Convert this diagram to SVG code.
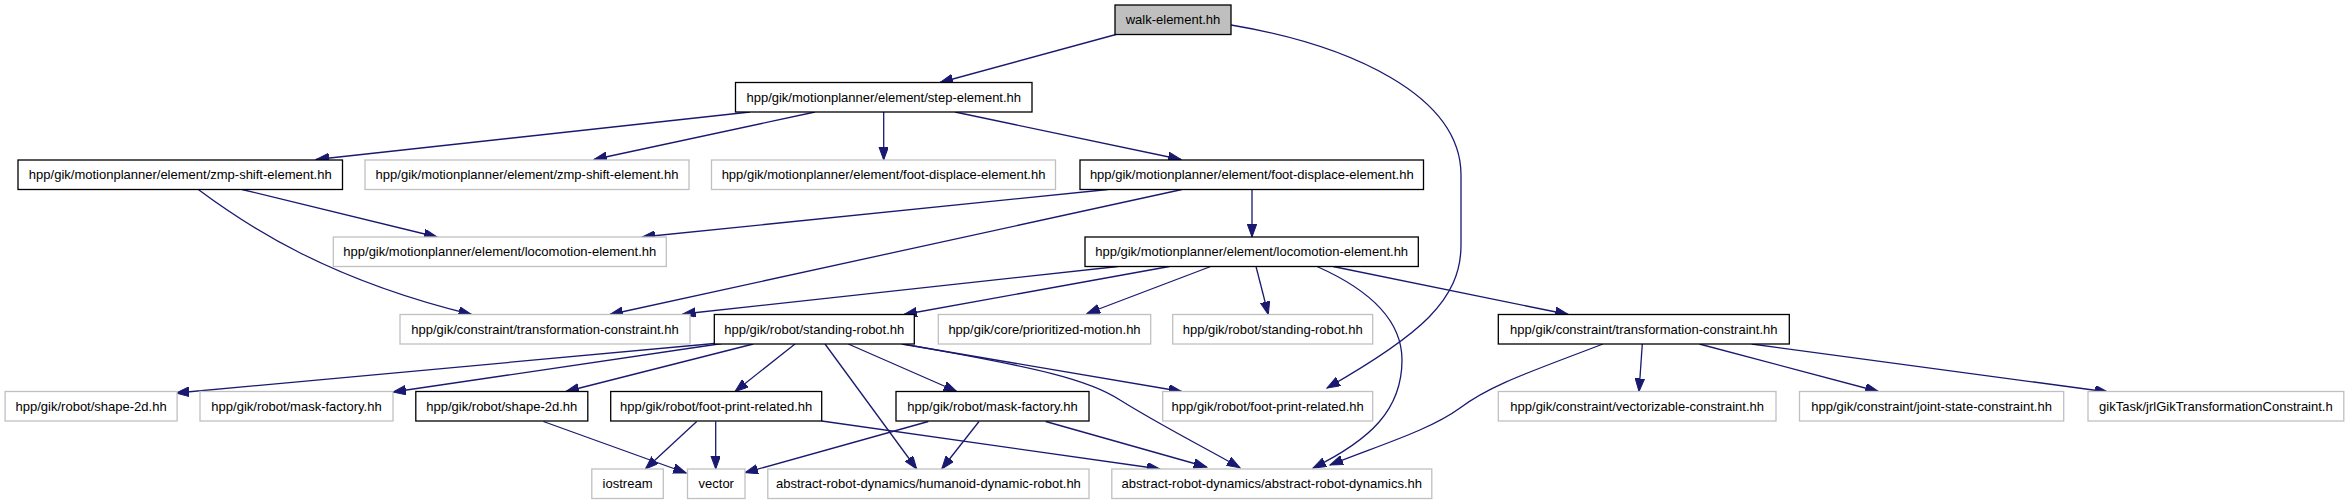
<svg xmlns="http://www.w3.org/2000/svg" width="2349" height="504" viewBox="0 0 2349 504">
<style>
.n rect{fill:#fff;stroke-width:1.3}
.b rect{stroke:#000}
.g rect{stroke:#c0c0c0}
.r rect{fill:#bfbfbf;stroke:#000}
text{font-family:"Liberation Sans",Arial,Helvetica,sans-serif;font-size:13px;fill:#000;text-anchor:middle}
#edges path{fill:none;stroke:#191970;stroke-width:1.3;marker-end:url(#ah)}
</style>
<defs>
<marker id="ah" markerUnits="userSpaceOnUse" markerWidth="14" markerHeight="10" refX="13" refY="4.75" orient="auto">
<path d="M0,0 L13,4.75 L0,9.5 z" fill="#191970" stroke="#191970" stroke-width="1"/>
</marker>
</defs>
<rect width="2349" height="504" fill="#fff"/>
<g id="edges">
<path d="M1116,34.5 L940,82.5"/>
<path d="M1231,25 C1350,45 1461,95 1461,175 L1461,245 C1461,300 1420,335 1327,388"/>
<path d="M750,112 L316,159.5"/>
<path d="M815,112 L594,159.5"/>
<path d="M883.7,112 L883.7,160"/>
<path d="M955,112 L1181,159.5"/>
<path d="M242,189.5 L437,237"/>
<path d="M198.3,189.5 C250,228 330,280 471.5,314.5"/>
<path d="M1108,189.5 L642,237"/>
<path d="M1182,189.5 L610,314.5"/>
<path d="M1252,189.5 L1252,237"/>
<path d="M1118,266.5 L682.7,314"/>
<path d="M1169.4,266.5 L904,314.5"/>
<path d="M1210.7,266.5 L1087,313.5"/>
<path d="M1256,266.5 L1268.3,314.5"/>
<path d="M1317,266.5 C1370,290 1402,320 1402,360 C1402,410 1370,440 1313,468"/>
<path d="M1333,266.5 L1568.3,314.5"/>
<path d="M714.3,343.5 L176,393"/>
<path d="M722,343.5 L393,392"/>
<path d="M753.3,344 L566,391.5"/>
<path d="M795,344 L735,391.5"/>
<path d="M825,344 L916.7,469"/>
<path d="M848.3,344 L956.7,391.5"/>
<path d="M901.7,344 L1181.7,391.5"/>
<path d="M905,344.3 C1040,368 1090,380 1120,400 C1160,425 1200,445 1240,467.7"/>
<path d="M696.7,421.5 L645.4,469"/>
<path d="M715.7,421.5 L715.7,469"/>
<path d="M821.7,421 L1160,469"/>
<path d="M543.4,421.5 L686.2,473"/>
<path d="M928.3,421.5 L745,472.7"/>
<path d="M979,421.5 L941.7,469"/>
<path d="M1045.7,421.5 L1206.7,467"/>
<path d="M1603,344 C1530,372 1490,385 1460,408 C1430,430 1380,445 1330,465"/>
<path d="M1642.3,344 L1639,391.5"/>
<path d="M1699.3,344 L1878.3,391.5"/>
<path d="M1751.7,344 L2108,392"/>
</g>
<g id="n1" class="n r"><rect x="1115" y="5" width="116" height="29.5"/><text x="1173" y="24">walk-element.hh</text></g>
<g id="n2" class="n b"><rect x="735.5" y="82.5" width="296.5" height="29.5"/><text x="883.75" y="101.5">hpp/gik/motionplanner/element/step-element.hh</text></g>
<g id="n3" class="n b"><rect x="18" y="160" width="324.5" height="29.5"/><text x="180.25" y="179">hpp/gik/motionplanner/element/zmp-shift-element.hh</text></g>
<g id="n4" class="n g"><rect x="365" y="160" width="324" height="29.5"/><text x="527" y="179">hpp/gik/motionplanner/element/zmp-shift-element.hh</text></g>
<g id="n5" class="n g"><rect x="711.5" y="160" width="344" height="29.5"/><text x="883.5" y="179">hpp/gik/motionplanner/element/foot-displace-element.hh</text></g>
<g id="n6" class="n b"><rect x="1080" y="160" width="343.5" height="29.5"/><text x="1251.75" y="179">hpp/gik/motionplanner/element/foot-displace-element.hh</text></g>
<g id="n7" class="n g"><rect x="333.3" y="237" width="333" height="29.5"/><text x="499.8" y="256">hpp/gik/motionplanner/element/locomotion-element.hh</text></g>
<g id="n8" class="n b"><rect x="1085" y="237" width="333.3" height="29.5"/><text x="1251.65" y="256">hpp/gik/motionplanner/element/locomotion-element.hh</text></g>
<g id="n9" class="n g"><rect x="400" y="314.5" width="290" height="29.5"/><text x="545" y="333.5">hpp/gik/constraint/transformation-constraint.hh</text></g>
<g id="n10" class="n b"><rect x="714.3" y="314.5" width="200" height="29.5"/><text x="814.3" y="333.5">hpp/gik/robot/standing-robot.hh</text></g>
<g id="n11" class="n g"><rect x="938.3" y="314.5" width="212.4" height="29.5"/><text x="1044.5" y="333.5">hpp/gik/core/prioritized-motion.hh</text></g>
<g id="n12" class="n g"><rect x="1172.7" y="314.5" width="200" height="29.5"/><text x="1272.7" y="333.5">hpp/gik/robot/standing-robot.hh</text></g>
<g id="n13" class="n b"><rect x="1498.3" y="314.5" width="291" height="29.5"/><text x="1643.8" y="333.5">hpp/gik/constraint/transformation-constraint.hh</text></g>
<g id="n14" class="n g"><rect x="5.1" y="391.5" width="172" height="29.5"/><text x="91.1" y="410.5">hpp/gik/robot/shape-2d.hh</text></g>
<g id="n15" class="n g"><rect x="200" y="391.5" width="193" height="29.5"/><text x="296.5" y="410.5">hpp/gik/robot/mask-factory.hh</text></g>
<g id="n16" class="n b"><rect x="415.8" y="391.5" width="172" height="29.5"/><text x="501.8" y="410.5">hpp/gik/robot/shape-2d.hh</text></g>
<g id="n17" class="n b"><rect x="610.7" y="391.5" width="211" height="29.5"/><text x="716.2" y="410.5">hpp/gik/robot/foot-print-related.hh</text></g>
<g id="n18" class="n b"><rect x="896" y="391.5" width="193" height="29.5"/><text x="992.5" y="410.5">hpp/gik/robot/mask-factory.hh</text></g>
<g id="n19" class="n g"><rect x="1162.7" y="391.5" width="210" height="29.5"/><text x="1267.7" y="410.5">hpp/gik/robot/foot-print-related.hh</text></g>
<g id="n20" class="n g"><rect x="1498.3" y="391.5" width="277.7" height="29.5"/><text x="1637.15" y="410.5">hpp/gik/constraint/vectorizable-constraint.hh</text></g>
<g id="n21" class="n g"><rect x="1799.5" y="391.5" width="264.2" height="29.5"/><text x="1931.6" y="410.5">hpp/gik/constraint/joint-state-constraint.hh</text></g>
<g id="n22" class="n g"><rect x="2088" y="391.5" width="255.8" height="29.5"/><text x="2215.9" y="410.5">gikTask/jrlGikTransformationConstraint.h</text></g>
<g id="n23" class="n g"><rect x="591.8" y="469" width="71.5" height="29.5"/><text x="627.55" y="488">iostream</text></g>
<g id="n24" class="n g"><rect x="687.5" y="469" width="57.5" height="29.5"/><text x="716.25" y="488">vector</text></g>
<g id="n25" class="n g"><rect x="767.8" y="469" width="321.2" height="29.5"/><text x="928.4" y="488">abstract-robot-dynamics/humanoid-dynamic-robot.hh</text></g>
<g id="n26" class="n g"><rect x="1111.8" y="469" width="320" height="29.5"/><text x="1271.8" y="488">abstract-robot-dynamics/abstract-robot-dynamics.hh</text></g>
</svg>
